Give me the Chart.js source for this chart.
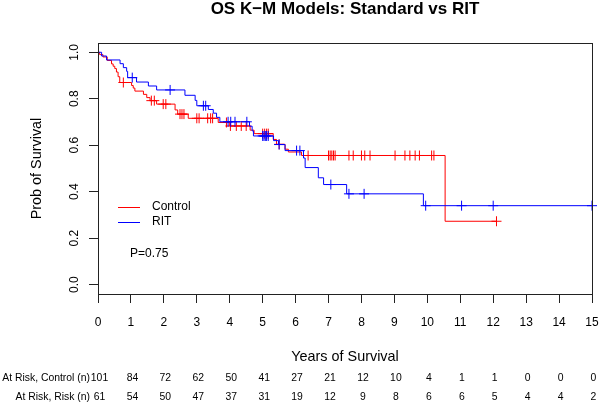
<!DOCTYPE html>
<html>
<head>
<meta charset="utf-8">
<script src="https://cdn.jsdelivr.net/npm/chart.js@4/dist/chart.umd.min.js"></script>
<style>
  html, body { margin: 0; padding: 0; background: #fff; }
  #km { display: block; }
</style>
</head>
<body>
<canvas id="km" width="600" height="402"></canvas>
<script>
// ── data ───────────────────────────────────────────────────────────────────
const yearTicks = [0, 1, 2, 3, 4, 5, 6, 7, 8, 9, 10, 11, 12, 13, 14, 15];
const probTicks = [0, 0.2, 0.4, 0.6, 0.8, 1.0];

// Control arm: step times (years) and survival after each step
const ctrlTime = [0, 0.05, 0.15, 0.28, 0.41, 0.46, 0.51, 0.56, 0.61, 0.66, 1.02, 1.07, 1.12, 1.38, 1.48,
  1.58, 1.78, 2.34, 2.42, 2.74, 3.65, 4.0, 4.62, 4.74, 5.32, 5.42, 5.68, 5.78, 6.18, 10.54, 12.1];
const ctrlSurv = [1, 0.99, 0.98, 0.965, 0.95, 0.94, 0.93, 0.915, 0.895, 0.87, 0.857, 0.846, 0.833, 0.819, 0.805,
  0.792, 0.777, 0.752, 0.734, 0.716, 0.698, 0.683, 0.665, 0.65, 0.625, 0.604, 0.583, 0.571, 0.556, 0.273, 0.273];
const ctrlCensor = [0.77, 1.62, 1.71, 1.98, 2.06, 2.49, 2.55, 2.61, 3.0, 3.07, 3.33, 3.42, 3.48, 3.9, 4.02,
  4.2, 4.35, 4.5, 5.0, 5.06, 5.12, 5.17, 5.5, 6.38, 7.0, 7.05, 7.1, 7.15, 7.2, 7.62, 7.75, 8.0, 8.1, 8.26,
  9.02, 9.32, 9.47, 9.63, 9.76, 10.13, 10.2, 12.1];

// RIT arm
const ritTime = [0, 0.11, 0.26, 0.67, 0.77, 0.87, 0.9, 1.17, 1.53, 1.78, 2.64, 2.95, 3.0, 3.35, 3.5, 3.6, 3.7,
  4.6, 4.68, 4.72, 5.33, 5.48, 5.68, 6.24, 6.29, 6.69, 6.85, 7.55, 9.88, 15];
const ritSurv = [1, 0.984, 0.967, 0.951, 0.934, 0.918, 0.891, 0.872, 0.855, 0.838, 0.815, 0.793, 0.77, 0.754,
  0.738, 0.72, 0.701, 0.682, 0.662, 0.64, 0.62, 0.603, 0.577, 0.545, 0.504, 0.46, 0.431, 0.391, 0.34, 0.34];
const ritCensor = [1.04, 2.19, 3.2, 3.27, 3.95, 4.03, 4.16, 4.52, 5.0, 5.04, 5.08, 5.12, 5.17, 5.5, 6.03, 6.13,
  7.07, 7.62, 8.08, 9.95, 11.04, 12.0, 15.0];

const atRiskControl = [101, 84, 72, 62, 50, 41, 27, 21, 12, 10, 4, 1, 1, 0, 0, 0];
const atRiskRIT = [61, 54, 50, 47, 37, 31, 19, 12, 9, 8, 6, 6, 5, 4, 4, 2];

const RED = '#ff0000';
const BLUE = '#0000ff';
const AXIS = '#222222';
const FONT = "'Liberation Sans', Arial, Helvetica, sans-serif";

// survival value of a step curve at time t
function survAt(times, survs, t) {
  let s = survs[0];
  for (let i = 0; i < times.length; i++) {
    if (times[i] <= t) s = survs[i];
  }
  return s;
}

const toPts = (xs, ys) => xs.map((x, i) => ({ x, y: ys[i] }));
const censorPts = (cs, times, survs) => cs.map(t => ({ x: t, y: survAt(times, survs, t) }));

// ── extra drawing: title, box, legend, p-value, at-risk table ─────────────
const decorations = {
  id: 'decorations',
  afterDraw(chart) {
    const { ctx, chartArea: a, scales: { x } } = chart;
    ctx.save();

    // plot box
    ctx.strokeStyle = AXIS;
    ctx.lineWidth = 1;
    ctx.strokeRect(Math.round(a.left) + 0.5, Math.round(a.top) + 0.5,
      Math.round(a.right - a.left), Math.round(a.bottom - a.top));

    // title
    ctx.fillStyle = '#000';
    ctx.font = `bold 17px ${FONT}`;
    ctx.textAlign = 'center';
    ctx.textBaseline = 'alphabetic';
    ctx.fillText('OS K\u2212M Models: Standard vs RIT', (a.left + a.right) / 2, 14);

    // legend
    ctx.font = `12px ${FONT}`;
    ctx.textAlign = 'left';
    ctx.textBaseline = 'middle';
    [['Control', RED, 207], ['RIT', BLUE, 222]].forEach(([label, col, y]) => {
      ctx.strokeStyle = col;
      ctx.beginPath();
      ctx.moveTo(118, y + 0.5);
      ctx.lineTo(140, y + 0.5);
      ctx.stroke();
      ctx.fillText(label, 152, y);
    });
    ctx.fillText('P=0.75', 130, 254);

    // number at risk
    ctx.font = `10.4px ${FONT}`;
    [['At Risk, Control (n)', atRiskControl, 378], ['At Risk, Risk (n)', atRiskRIT, 397]].forEach(([label, vals, y]) => {
      ctx.textAlign = 'right';
      ctx.fillText(label, 90, y);
      ctx.textAlign = 'center';
      vals.forEach((v, i) => ctx.fillText(String(v), x.getPixelForValue(yearTicks[i]) + 1.5, y));
    });

    ctx.restore();
  },
};

Chart.defaults.font.family = FONT;
Chart.defaults.color = '#000';

new Chart(document.getElementById('km'), {
  type: 'line',
  data: {
    datasets: [
      {
        label: 'RIT',
        data: toPts(ritTime, ritSurv),
        borderColor: BLUE,
        borderWidth: 1,
        pointRadius: 0,
        stepped: 'before',
        fill: false,
      },
      {
        type: 'scatter',
        label: 'RIT censored',
        data: censorPts(ritCensor, ritTime, ritSurv),
        pointStyle: 'cross',
        pointRadius: 5,
        borderColor: BLUE,
        borderWidth: 1,
        clip: false,
      },
      {
        label: 'Control',
        data: toPts(ctrlTime, ctrlSurv),
        borderColor: RED,
        borderWidth: 1,
        pointRadius: 0,
        stepped: 'before',
        fill: false,
      },
      {
        type: 'scatter',
        label: 'Control censored',
        data: censorPts(ctrlCensor, ctrlTime, ctrlSurv),
        pointStyle: 'cross',
        pointRadius: 5,
        borderColor: RED,
        borderWidth: 1,
        clip: false,
      },
    ],
  },
  options: {
    responsive: false,
    animation: false,
    events: [],
    layout: { padding: { top: 43, right: 8, left: 0, bottom: 0 } },
    plugins: {
      legend: { display: false },
      tooltip: { enabled: false },
      title: { display: false },
    },
    scales: {
      x: {
        type: 'linear',
        min: 0,
        max: 15,
        afterFit(scale) {
          scale.height = 108;
          scale.paddingLeft = 0;
          scale.paddingRight = 0;
        },
        afterBuildTicks(scale) { scale.ticks = yearTicks.map(v => ({ value: v })); },
        grid: { display: true, drawOnChartArea: false, drawTicks: true, tickLength: 9, color: AXIS },
        border: { display: false },
        ticks: { font: { size: 12 }, padding: 12, maxRotation: 0, autoSkip: false, callback: v => String(v) },
        title: { display: true, text: 'Years of Survival', font: { size: 14.4 }, padding: { top: 0, bottom: 36 } },
      },
      y: {
        type: 'linear',
        min: -0.04,
        max: 1.04,
        afterFit(scale) { scale.width = 98; },
        afterBuildTicks(scale) { scale.ticks = probTicks.map(v => ({ value: v })); },
        grid: { display: true, drawOnChartArea: false, drawTicks: true, tickLength: 9, color: AXIS },
        border: { display: false },
        ticks: {
          font: { size: 12 },
          padding: 6,
          minRotation: 90,
          maxRotation: 90,
          crossAlign: 'center',
          autoSkip: false,
          callback: v => v.toFixed(1),
        },
        title: { display: true, text: 'Prob of Survival', font: { size: 14.4 }, padding: { top: 28, bottom: 0 } },
      },
    },
  },
  plugins: [decorations],
});
</script>
</body>
</html>
